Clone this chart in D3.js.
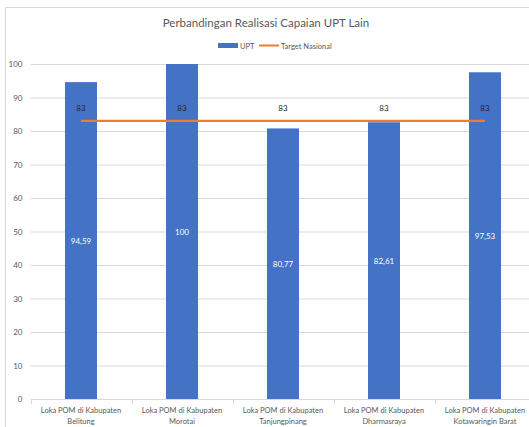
<!DOCTYPE html>
<html><head><meta charset="utf-8">
<script src="https://cdn.jsdelivr.net/npm/d3@7"></script>
<style>body{margin:0;background:#fff;} svg{display:block;font-family:Lato,"Open Sans",sans-serif;}</style>
</head><body>
<svg id="c" width="529" height="427"></svg>
<script>
const categories = [
  ["Loka POM di Kabupaten","Belitung"],
  ["Loka POM di Kabupaten","Morotai"],
  ["Loka POM di Kabupaten","Tanjungpinang"],
  ["Loka POM di Kabupaten","Dharmasraya"],
  ["Loka POM di Kabupaten","Kotawaringin Barat"]
];
const upt = [94.59, 100, 80.77, 82.61, 97.53];
const uptLabels = ["94,59","100","80,77","82,61","97,53"];
const target = [83, 83, 83, 83, 83];
const yTicks = [0,10,20,30,40,50,60,70,80,90,100];

(function(){
const svg = d3.select("#c");
svg.append("rect").attr("x",5.5).attr("y",7.5).attr("width",540).attr("height",440)
  .attr("fill","#fff").attr("stroke","#d9d9d9");

const pL = 30.5, pR = 535.5, pT = 64, pB = 399;
const x = d3.scaleBand().domain(d3.range(categories.length)).range([pL,pR]).paddingInner(0.683).paddingOuter(0.3415);
const xc = i => x(i) + x.bandwidth()/2;
const y = d3.scaleLinear().domain([0,100]).range([pB,pT]);

svg.append("g").selectAll("line").data(yTicks.filter(d=>d>0)).join("line")
  .attr("x1",pL).attr("x2",pR).attr("y1",d=>y(d)+0.5).attr("y2",d=>y(d)+0.5)
  .attr("stroke","#d9d9d9").attr("stroke-width",1);

const ya = svg.append("g").attr("transform",`translate(${pL},0)`)
  .call(d3.axisLeft(y).tickValues(yTicks).tickSize(0).tickPadding(8));
ya.select(".domain").remove();
ya.selectAll("text").attr("fill","#595959").style("font-size","8px").style("font-family","Lato,sans-serif");

const band = (pR-pL)/categories.length;
svg.append("line").attr("x1",pL).attr("x2",pR).attr("y1",pB+0.5).attr("y2",pB+0.5).attr("stroke","#d9d9d9");
svg.append("g").selectAll("line").data(d3.range(categories.length+1)).join("line")
  .attr("x1",i=>Math.round(pL+i*band)+0.5).attr("x2",i=>Math.round(pL+i*band)+0.5).attr("y1",pB).attr("y2",pB+5).attr("stroke","#d9d9d9");

svg.append("g").selectAll("rect").data(upt).join("rect")
  .attr("x",(d,i)=>x(i)).attr("width",x.bandwidth())
  .attr("y",d=>y(d)).attr("height",d=>pB-y(d))
  .attr("fill","#4472c4");

svg.append("g").selectAll("text").data(upt).join("text")
  .attr("x",(d,i)=>xc(i)).attr("y",d=>(y(d)+pB)/2+3)
  .attr("text-anchor","middle").attr("fill","#fff").style("font-size","8px")
  .text((d,i)=>uptLabels[i]);

const line = d3.line().x((d,i)=>xc(i)).y(d=>y(d));
svg.append("path").datum(target).attr("d",line).attr("fill","none")
  .attr("stroke","#ed7d31").attr("stroke-width",2.2);

svg.append("g").selectAll("text").data(target).join("text")
  .attr("x",(d,i)=>xc(i)).attr("y",d=>y(d)-10)
  .attr("text-anchor","middle").attr("fill","#262626").style("font-size","8px")
  .text(d=>d);

const cl = svg.append("g").selectAll("text").data(categories).join("text")
  .attr("text-anchor","middle").attr("fill","#595959").style("font-size","7.5px");
cl.each(function(d,i){
  const t = d3.select(this);
  d.forEach((s,k)=>t.append("tspan").attr("x",xc(i)).attr("y",413+k*11).text(s));
});

svg.append("text").attr("x",266).attr("y",27).attr("text-anchor","middle")
  .attr("fill","#595959").style("font-size","11.5px").text("Perbandingan Realisasi Capaian UPT Lain");

const lg = svg.append("g");
lg.append("rect").attr("x",218).attr("y",43).attr("width",20).attr("height",5).attr("fill","#4472c4");
lg.append("text").attr("x",240).attr("y",48.5).attr("fill","#595959").style("font-size","7.5px").text("UPT");
lg.append("line").attr("x1",259).attr("x2",279).attr("y1",45.5).attr("y2",45.5).attr("stroke","#ed7d31").attr("stroke-width",2);
lg.append("text").attr("x",281).attr("y",48.5).attr("fill","#595959").style("font-size","7.5px").text("Target Nasional");
})();
</script>
</body></html>
